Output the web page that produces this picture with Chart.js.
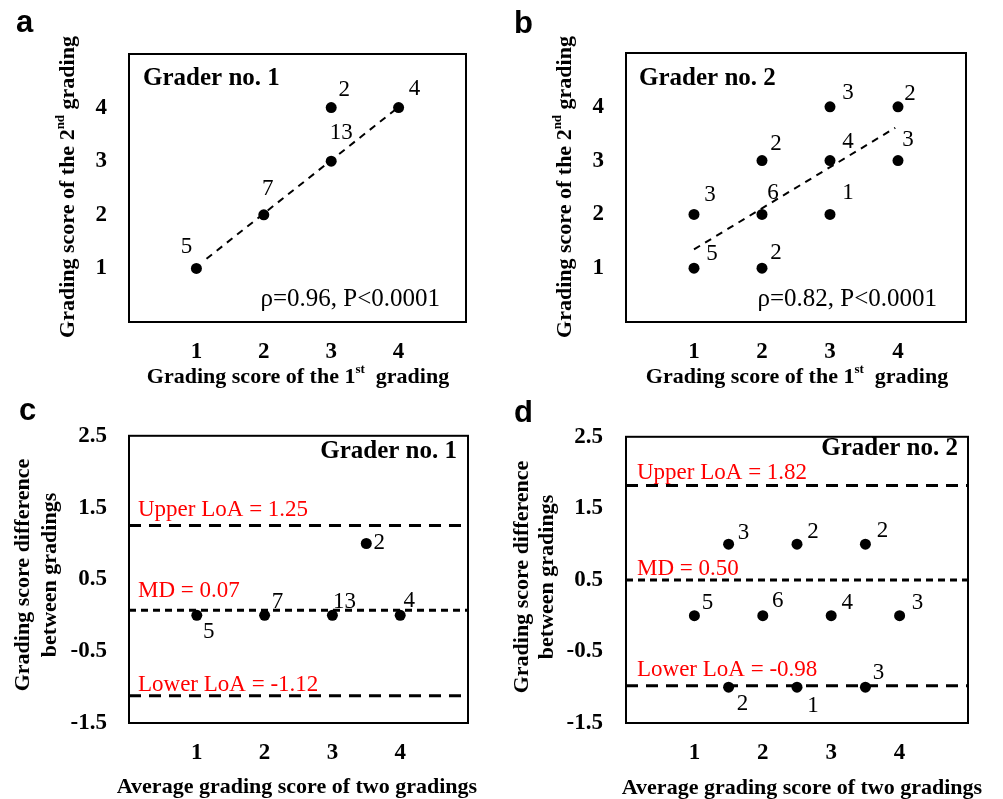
<!DOCTYPE html>
<html>
<head>
<meta charset="utf-8">
<script src="https://cdn.jsdelivr.net/npm/chart.js@4.4.0/dist/chart.umd.min.js"></script>
<style>
  body { margin: 0; background: #fff; }
  #wrap { position: relative; width: 1003px; height: 799px; overflow: hidden; }
  canvas { position: absolute; }
</style>
</head>
<body>
<div id="wrap">
  <canvas id="chartA" width="500" height="400" style="left:0;top:0;width:500px;height:400px"></canvas>
  <canvas id="chartB" width="503" height="400" style="left:500px;top:0;width:503px;height:400px"></canvas>
  <canvas id="chartC" width="500" height="399" style="left:0;top:400px;width:500px;height:399px"></canvas>
  <canvas id="chartD" width="503" height="399" style="left:500px;top:400px;width:503px;height:399px"></canvas>
</div>
<script>
// tick values
var scoreTicks = [1, 2, 3, 4];
var diffTicks = [-1.5, -0.5, 0.5, 1.5, 2.5];

// a: grader 1, 1st vs 2nd grading
var firstA = [1, 2, 3, 3, 4];
var secondA = [1, 2, 3, 4, 4];
var countA = [5, 7, 13, 2, 4];
var trendXA = [1.15, 3.95];
var trendYA = [1.18, 3.96];

// b: grader 2, 1st vs 2nd grading
var firstB = [1, 1, 2, 2, 2, 3, 3, 3, 4, 4];
var secondB = [1, 2, 1, 2, 3, 2, 3, 4, 3, 4];
var countB = [5, 3, 2, 6, 2, 1, 4, 3, 3, 2];
var trendXB = [1, 3.96];
var trendYB = [1.35, 3.61];

// c: grader 1, Bland-Altman
var avgC = [1, 2, 3, 4, 3.5];
var diffC = [0, 0, 0, 0, 1];
var countC = [5, 7, 13, 4, 2];
var limitsC = [1.25, 0.07, -1.12];
var limitNamesC = ['Upper LoA = 1.25', 'MD = 0.07', 'Lower LoA = -1.12'];

// d: grader 2, Bland-Altman
var avgD = [1.5, 2.5, 3.5, 1, 2, 3, 4, 1.5, 2.5, 3.5];
var diffD = [1, 1, 1, 0, 0, 0, 0, -1, -1, -1];
var countD = [3, 2, 2, 5, 6, 4, 3, 2, 1, 3];
var limitsD = [1.82, 0.50, -0.98];
var limitNamesD = ['Upper LoA = 1.82', 'MD = 0.50', 'Lower LoA = -0.98'];

var SERIF = "'Liberation Serif', 'Times New Roman', serif";
var SANS = "'Liberation Sans', Arial, sans-serif";

function font(weight, size, family) {
  return weight + ' ' + size + 'px ' + family;
}

// text with superscript parts, centred on (cx, cy)
function drawRich(ctx, parts, cx, cy, size) {
  var total = 0;
  parts.forEach(function (p) {
    ctx.font = font('bold', p.sup ? Math.round(size * 0.6) : size, SERIF);
    p.w = ctx.measureText(p.t).width;
    total += p.w;
  });
  var x = cx - total / 2;
  ctx.textAlign = 'left';
  ctx.textBaseline = 'middle';
  parts.forEach(function (p) {
    ctx.font = font('bold', p.sup ? Math.round(size * 0.6) : size, SERIF);
    ctx.fillText(p.t, x, p.sup ? cy - size * 0.33 : cy);
    x += p.w;
  });
}

function makePanel(id, cfg) {
  var canvas = document.getElementById(id);
  var W = canvas.width, H = canvas.height;
  var area = cfg.area;

  var datasets = [{
    data: cfg.xs.map(function (x, i) { return { x: x, y: cfg.ys[i] }; }),
    pointRadius: 5.5,
    pointBackgroundColor: '#000',
    pointBorderWidth: 0,
    showLine: false
  }];
  if (cfg.trendX) {
    datasets.push({
      data: cfg.trendX.map(function (x, i) { return { x: x, y: cfg.trendY[i] }; }),
      showLine: true, borderColor: '#000', borderWidth: 2, borderDash: [7, 6],
      pointRadius: 0, fill: false
    });
  }
  (cfg.limits || []).forEach(function (v, i) {
    datasets.push({
      data: [{ x: cfg.xRange[0], y: v }, { x: cfg.xRange[1], y: v }],
      showLine: true, borderColor: '#000', borderWidth: 3,
      borderDash: i === 1 ? [7, 5] : [12, 8],
      pointRadius: 0, fill: false
    });
  });

  var deco = {
    id: 'deco',
    afterDatasetsDraw: function (chart) {
      var ctx = chart.ctx;
      var meta = chart.getDatasetMeta(0);
      ctx.save();
      ctx.fillStyle = '#000';
      ctx.font = font('normal', 23, SERIF);
      ctx.textAlign = 'center';
      ctx.textBaseline = 'middle';
      meta.data.forEach(function (el, i) {
        var off = cfg.labelOffsets[i];
        ctx.fillText(String(cfg.counts[i]), el.x + off[0], el.y + off[1]);
      });
      ctx.restore();
    },
    afterDraw: function (chart) {
      var ctx = chart.ctx;
      var ca = chart.chartArea;
      ctx.save();
      // frame
      ctx.strokeStyle = '#000';
      ctx.lineWidth = 2;
      ctx.strokeRect(ca.left, ca.top, ca.right - ca.left, ca.bottom - ca.top);

      ctx.fillStyle = '#000';
      // panel letter
      ctx.font = font('bold', 31, SANS);
      ctx.textAlign = 'left';
      ctx.textBaseline = 'alphabetic';
      ctx.fillText(cfg.letter.t, cfg.letter.x, cfg.letter.y);

      // grader title
      ctx.font = font('bold', 25, SERIF);
      ctx.textAlign = cfg.title.align;
      ctx.textBaseline = 'middle';
      ctx.fillText(cfg.title.t, cfg.title.x, cfg.title.y);

      // correlation
      if (cfg.stat) {
        ctx.font = font('normal', 25, SERIF);
        ctx.textAlign = 'right';
        ctx.fillText(cfg.stat.t, cfg.stat.x, cfg.stat.y);
      }

      // limit labels
      if (cfg.limitNames) {
        var ys = chart.scales.y;
        ctx.fillStyle = '#ff0000';
        ctx.font = font('normal', 23, SERIF);
        ctx.textAlign = 'left';
        cfg.limitNames.forEach(function (t, i) {
          ctx.fillText(t, cfg.limitLabelX, ys.getPixelForValue(cfg.limits[i]) - cfg.limitLabelLift[i]);
        });
        ctx.fillStyle = '#000';
      }

      // axis titles
      drawRich(ctx, cfg.xTitle.parts, cfg.xTitle.x, cfg.xTitle.y, 22);
      cfg.yTitle.lines.forEach(function (line) {
        ctx.save();
        ctx.translate(line.x, cfg.yTitle.y);
        ctx.rotate(-Math.PI / 2);
        drawRich(ctx, line.parts, 0, 0, 22);
        ctx.restore();
      });
      ctx.restore();
    }
  };

  return new Chart(canvas.getContext('2d'), {
    type: 'scatter',
    data: { datasets: datasets },
    options: {
      responsive: false,
      animation: false,
      layout: { padding: { left: 0, top: area.top, right: W - area.right, bottom: 0 } },
      plugins: { legend: { display: false }, tooltip: { enabled: false } },
      scales: {
        x: {
          type: 'linear', min: cfg.xRange[0], max: cfg.xRange[1],
          grid: { display: false, drawTicks: false },
          border: { display: false },
          ticks: { color: '#000', font: { family: SERIF, weight: 'bold', size: 23 }, padding: 16 },
          afterBuildTicks: function (s) { s.ticks = cfg.xTicks.map(function (v) { return { value: v }; }); },
          afterFit: function (s) { s.height = H - area.bottom; }
        },
        y: {
          type: 'linear', min: cfg.yRange[0], max: cfg.yRange[1],
          grid: { display: false, drawTicks: false },
          border: { display: false },
          ticks: {
            color: '#000', font: { family: SERIF, weight: 'bold', size: 23 }, padding: cfg.yPad,
            callback: function (v) { return cfg.yDecimals ? v.toFixed(1) : String(v); }
          },
          afterBuildTicks: function (s) { s.ticks = cfg.yTicks.map(function (v) { return { value: v }; }); },
          afterFit: function (s) { s.width = area.left; }
        }
      }
    },
    plugins: [deco]
  });
}

var titleX1 = [{ t: 'Grading score of the 1' }, { t: 'st', sup: true }, { t: '  grading' }];
var titleY2 = [{ t: 'Grading score of the 2' }, { t: 'nd', sup: true }, { t: ' grading' }];
var titleAvg = [{ t: 'Average grading score of two gradings' }];

makePanel('chartA', {
  area: { left: 129, right: 466, top: 54, bottom: 322 },
  xs: firstA, ys: secondA, counts: countA,
  labelOffsets: [[-10, -21], [4, -26], [10, -28], [13, -18], [16, -19]],
  trendX: trendXA, trendY: trendYA,
  xRange: [0, 5], yRange: [0, 5], xTicks: scoreTicks, yTicks: scoreTicks, yPad: 22,
  letter: { t: 'a', x: 16, y: 32 },
  title: { t: 'Grader no. 1', align: 'left', x: 143, y: 79 },
  stat: { t: '\u03c1=0.96, P<0.0001', x: 440, y: 299 },
  xTitle: { parts: titleX1, x: 298, y: 377 },
  yTitle: { y: 187, lines: [{ x: 68, parts: titleY2 }] }
});

makePanel('chartB', {
  area: { left: 126, right: 466, top: 53, bottom: 322 },
  xs: firstB, ys: secondB, counts: countB,
  labelOffsets: [[18, -14], [16, -19], [14, -15], [11, -21], [14, -17], [18, -21], [18, -19], [18, -14], [10, -21], [12, -13]],
  trendX: trendXB, trendY: trendYB,
  xRange: [0, 5], yRange: [0, 5], xTicks: scoreTicks, yTicks: scoreTicks, yPad: 22,
  letter: { t: 'b', x: 14, y: 33 },
  title: { t: 'Grader no. 2', align: 'left', x: 139, y: 79 },
  stat: { t: '\u03c1=0.82, P<0.0001', x: 437, y: 299 },
  xTitle: { parts: titleX1, x: 297, y: 377 },
  yTitle: { y: 187, lines: [{ x: 65, parts: titleY2 }] }
});

makePanel('chartC', {
  area: { left: 129, right: 468, top: 28, bottom: 323 },
  xs: avgC, ys: diffC, counts: countC,
  labelOffsets: [[12, 17], [13, -13], [12, -13], [9, -14], [13, -1]],
  limits: limitsC, limitNames: limitNamesC, limitLabelX: 138, limitLabelLift: [16, 19, 11],
  xRange: [0, 5], yRange: [-1.5, 2.5], xTicks: scoreTicks, yTicks: diffTicks, yPad: 22, yDecimals: true,
  letter: { t: 'c', x: 19, y: 20 },
  title: { t: 'Grader no. 1', align: 'right', x: 457, y: 52 },
  xTitle: { parts: titleAvg, x: 297, y: 387 },
  yTitle: { y: 175, lines: [{ x: 23, parts: [{ t: 'Grading score difference' }] }, { x: 50, parts: [{ t: 'between gradings' }] }] }
});

makePanel('chartD', {
  area: { left: 126, right: 468, top: 25, bottom: 323 },
  xs: avgD, ys: diffD, counts: countD,
  labelOffsets: [[15, -11], [16, -12], [17, -13], [13, -13], [15, -15], [16, -13], [18, -13], [14, 17], [16, 19], [13, -14]],
  limits: limitsD, limitNames: limitNamesD, limitLabelX: 137, limitLabelLift: [13, 11, 16],
  xRange: [0, 5], yRange: [-1.5, 2.5], xTicks: scoreTicks, yTicks: diffTicks, yPad: 23, yDecimals: true,
  letter: { t: 'd', x: 14, y: 22 },
  title: { t: 'Grader no. 2', align: 'right', x: 458, y: 49 },
  xTitle: { parts: titleAvg, x: 302, y: 388 },
  yTitle: { y: 177, lines: [{ x: 22, parts: [{ t: 'Grading score difference' }] }, { x: 47, parts: [{ t: 'between gradings' }] }] }
});
</script>
</body>
</html>
